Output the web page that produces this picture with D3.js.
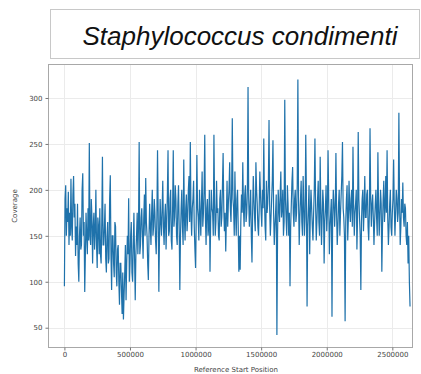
<!DOCTYPE html>
<html>
<head>
<meta charset="utf-8">
<script src="https://cdn.jsdelivr.net/npm/d3@7"></script>
<style>
  body { margin: 0; background: #fff; }
  svg { display: block; }
</style>
</head>
<body>
<div id="chart"></div>
<script>
// coverage per 5 kb bin along the reference
const title = 'Staphylococcus condimenti';
const binSize = 5000;
const coverage = [
  95, 190, 205, 150, 180, 165, 198, 140, 175, 150, 212, 160,
  145, 195, 215, 170, 185, 128, 160, 140, 185, 120, 100, 150,
  170, 135, 140, 200, 218, 150, 165, 89, 130, 175, 150, 130,
  180, 145, 251, 150, 140, 190, 170, 120, 160, 175, 135, 155,
  200, 140, 115, 170, 160, 130, 180, 130, 120, 165, 236, 140,
  140, 160, 185, 125, 110, 150, 165, 120, 125, 190, 216, 130,
  91, 150, 150, 120, 105, 165, 160, 110, 95, 135, 140, 100,
  75, 120, 120, 90, 65, 110, 59, 85, 110, 140, 80, 120,
  150, 130, 191, 100, 120, 150, 165, 110, 100, 140, 175, 125,
  80, 130, 150, 175, 130, 160, 252, 130, 140, 170, 180, 150,
  125, 170, 195, 150, 213, 165, 150, 120, 102, 150, 185, 160,
  140, 175, 200, 150, 160, 190, 175, 145, 130, 170, 243, 175,
  89, 150, 190, 165, 150, 180, 210, 160, 140, 170, 185, 135,
  165, 195, 243, 150, 155, 190, 200, 145, 135, 180, 243, 160,
  170, 205, 190, 150, 140, 185, 205, 160, 91, 150, 180, 200,
  160, 140, 233, 170, 145, 180, 195, 155, 170, 200, 215, 165,
  252, 175, 150, 180, 190, 210, 160, 135, 115, 170, 238, 180,
  170, 145, 200, 175, 150, 185, 220, 160, 175, 200, 260, 170,
  140, 180, 190, 150, 160, 200, 111, 165, 200, 180, 175, 150,
  260, 185, 150, 165, 210, 175, 180, 150, 145, 190, 200, 160,
  170, 205, 240, 180, 155, 175, 133, 170, 210, 160, 185, 200,
  230, 180, 165, 200, 278, 190, 180, 150, 220, 175, 150, 190,
  200, 160, 111, 150, 113, 165, 195, 175, 230, 180, 160, 195,
  205, 165, 175, 200, 312, 190, 160, 180, 200, 150, 121, 175,
  215, 190, 170, 155, 230, 200, 185, 160, 150, 180, 220, 195,
  175, 160, 200, 180, 256, 190, 160, 145, 210, 175, 185, 205,
  276, 180, 150, 170, 190, 210, 254, 175, 140, 160, 175, 195,
  42, 150, 200, 180, 165, 195, 220, 170, 180, 200, 150, 165,
  298, 190, 170, 150, 205, 185, 150, 175, 95, 160, 185, 210,
  225, 175, 160, 190, 200, 165, 175, 205, 320, 190, 140, 170,
  190, 210, 165, 150, 215, 185, 150, 170, 260, 195, 73, 160,
  180, 205, 130, 175, 200, 180, 160, 145, 175, 200, 256, 185,
  145, 165, 190, 210, 165, 150, 236, 180, 140, 170, 200, 185,
  120, 165, 180, 205, 155, 175, 243, 190, 130, 160, 175, 190,
  62, 170, 200, 185, 160, 180, 240, 175, 140, 160, 185, 200,
  150, 175, 195, 215, 252, 180, 170, 150, 57, 165, 190, 205,
  145, 170, 210, 180, 165, 190, 200, 160, 247, 185, 150, 175,
  185, 200, 135, 170, 263, 190, 170, 150, 91, 165, 190, 200,
  155, 180, 215, 170, 170, 195, 200, 160, 145, 175, 267, 190,
  160, 185, 195, 170, 140, 165, 185, 200, 170, 150, 241, 180,
  150, 175, 200, 185, 111, 160, 190, 210, 165, 180, 215, 175,
  243, 170, 140, 160, 185, 200, 160, 150, 175, 190, 233, 180,
  150, 175, 200, 190, 165, 175, 284, 190, 140, 160, 190, 175,
  208, 170, 160, 185, 180, 150, 140, 165, 120, 150, 100, 73
];
const xTicks = [0, 500000, 1000000, 1500000, 2000000, 2500000];
const yTicks = [50, 100, 150, 200, 250, 300];

const svgWidth = 421;
const svgHeight = 374;
const plot = { left: 48, right: 412, top: 64, bottom: 347 };

const svg = d3.select('#chart')
  .append('svg')
  .attr('width', svgWidth)
  .attr('height', svgHeight);

//title box
svg.append('rect')
  .attr('x', 50.5).attr('y', 9.5)
  .attr('width', 369).attr('height', 49)
  .attr('fill', '#fff')
  .attr('stroke', '#c8c8c8');

svg.append('text')
  .attr('x', 240).attr('y', 45)
  .attr('text-anchor', 'middle')
  .attr('font-family', 'Liberation Sans, Arial, sans-serif')
  .attr('font-style', 'italic')
  .attr('font-size', 26)
  .attr('fill', '#111')
  .text(title);

//scales
const xScale = d3.scaleLinear()
  .domain([-125000, 2650000])
  .range([plot.left, plot.right]);

const yScale = d3.scaleLinear()
  .domain([29, 337])
  .range([plot.bottom, plot.top]);

//grid
const grid = svg.append('g');
grid.selectAll('.vg').data(xTicks).enter().append('line')
  .attr('x1', d => Math.round(xScale(d)) + 0.5)
  .attr('x2', d => Math.round(xScale(d)) + 0.5)
  .attr('y1', plot.top).attr('y2', plot.bottom)
  .attr('stroke', '#ebebeb');
grid.selectAll('.hg').data(yTicks).enter().append('line')
  .attr('y1', d => Math.round(yScale(d)) + 0.5)
  .attr('y2', d => Math.round(yScale(d)) + 0.5)
  .attr('x1', plot.left).attr('x2', plot.right)
  .attr('stroke', '#ebebeb');

//coverage line
const line = d3.line()
  .x((d, i) => xScale(i * binSize))
  .y(d => yScale(d));

svg.append('path')
  .datum(coverage)
  .attr('d', line)
  .attr('fill', 'none')
  .attr('stroke', '#1f72ab')
  .attr('stroke-width', 1.2);

//frame
svg.append('rect')
  .attr('x', plot.left + 0.5).attr('y', plot.top + 0.5)
  .attr('width', plot.right - plot.left).attr('height', plot.bottom - plot.top)
  .attr('fill', 'none')
  .attr('stroke', '#a8a8a8');

//axes
const xAxis = d3.axisBottom(xScale).tickValues(xTicks).tickSize(3).tickPadding(2).tickFormat(d3.format('d'));
const yAxis = d3.axisLeft(yScale).tickValues(yTicks).tickSize(3).tickPadding(3).tickFormat(d3.format('d'));

const gx = svg.append('g')
  .attr('transform', `translate(0, ${plot.bottom + 0.5})`)
  .call(xAxis);
const gy = svg.append('g')
  .attr('transform', `translate(${plot.left + 0.5}, 0)`)
  .call(yAxis);

[gx, gy].forEach(g => {
  g.select('.domain').remove();
  g.selectAll('.tick line').attr('stroke', '#777');
  g.selectAll('.tick text')
    .attr('fill', '#444')
    .attr('font-family', 'DejaVu Sans, sans-serif')
    .attr('font-size', 7);
});

//axis labels
svg.append('text')
  .attr('transform', 'translate(17, 206) rotate(-90)')
  .attr('text-anchor', 'middle')
  .attr('font-family', 'DejaVu Sans, sans-serif')
  .attr('font-size', 7)
  .attr('fill', '#444')
  .text('Coverage');

svg.append('text')
  .attr('x', 236).attr('y', 372)
  .attr('text-anchor', 'middle')
  .attr('font-family', 'DejaVu Sans, sans-serif')
  .attr('font-size', 7)
  .attr('fill', '#444')
  .text('Reference Start Position');
</script>
</body>
</html>
